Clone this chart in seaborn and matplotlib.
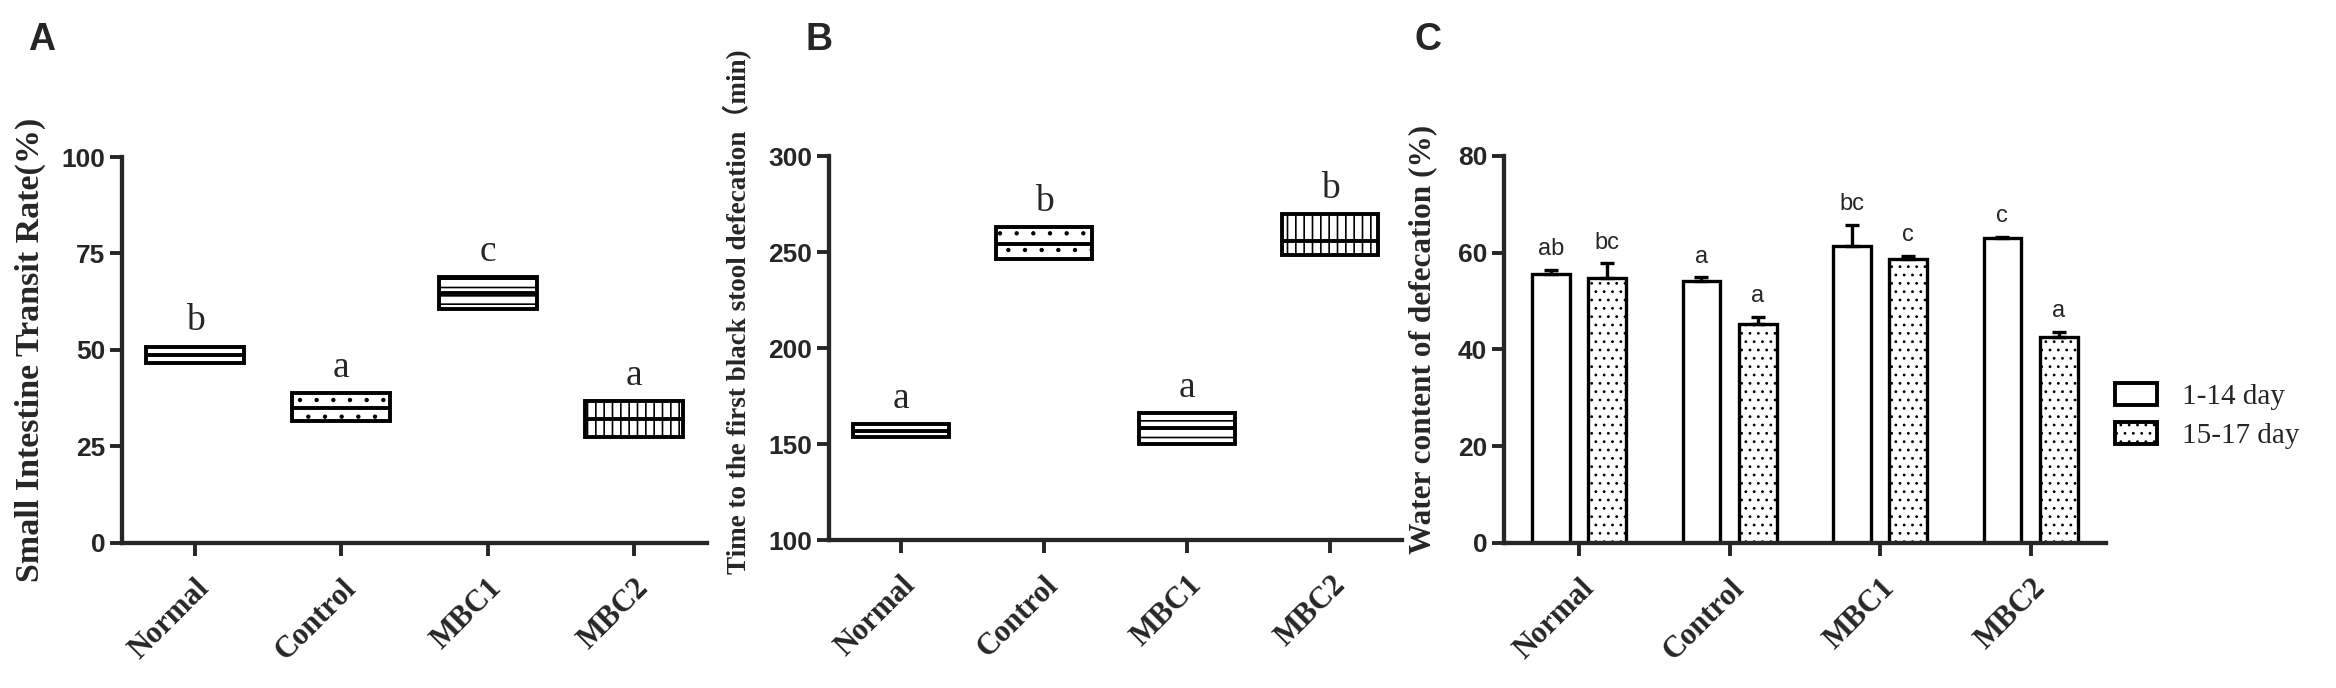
import matplotlib
matplotlib.use('Agg')
import matplotlib.pyplot as plt
import seaborn as sns
import numpy as np
import pandas as pd
from matplotlib.patches import Patch

# data
groups = ['Normal', 'Control', 'MBC1', 'MBC2']

# A: small intestine transit rate, floating bars (min..max) with mean line
transit_min = [46.6, 31.6, 60.6, 27.4]
transit_max = [50.9, 38.8, 68.9, 36.8]
transit_mean = [48.6, 35.0, 64.8, 32.2]
transit_letters = ['b', 'a', 'c', 'a']

# B: time to first black stool (min)
stool_min = [153.6, 246.2, 149.9, 248.7]
stool_max = [160.2, 263.0, 166.1, 269.7]
stool_mean = [156.8, 254.4, 158.6, 256.0]
stool_letters = ['a', 'b', 'a', 'b']

# C: water content of defecation (%)
periods = ['1-14 day', '15-17 day']
water_early = [55.5, 54.1, 61.4, 63.1]
water_late = [54.8, 45.3, 58.7, 42.6]
err_early = [0.9, 0.8, 4.3, 0.2]
err_late = [3.0, 1.4, 0.7, 1.1]
letters_early = ['ab', 'a', 'bc', 'c']
letters_late = ['bc', 'a', 'c', 'a']

group_hatches = ['', '.', '--', '||']

SERIF = 'Liberation Serif'
SANS = 'Liberation Sans'
LW = 2.8

sns.set_style('ticks')
plt.rcParams['hatch.linewidth'] = 1.2


def thin_dots(patch):
    # dotted fills look finer in the original
    if hasattr(patch, 'set_hatch_linewidth'):
        patch.set_hatch_linewidth(0.7)


def style_axis(ax, ylim, yticks):
    # prism-like thick axes, only left and bottom
    sns.despine(ax=ax)
    for side in ['left', 'bottom']:
        ax.spines[side].set_linewidth(LW + 0.3)
    ax.set_ylim(*ylim)
    ax.set_yticks(yticks)
    ax.set_xlim(-0.5, 3.5)
    ax.tick_params(axis='both', width=LW, length=9, direction='out')
    ax.tick_params(axis='y', pad=3)
    for lab in ax.get_yticklabels():
        lab.set_fontfamily(SANS)
        lab.set_fontweight('bold')
        lab.set_fontsize(19)
    ax.set_xticks(range(len(groups)))
    ax.set_xticklabels(groups, rotation=45, ha='right', rotation_mode='anchor',
                       fontfamily=SERIF, fontweight='bold', fontsize=22)
    ax.tick_params(axis='x', pad=13)
    ax.set_xlabel('')


def floating_panel(ax, mins, maxs, means, letters, ylim, yticks, ylabel, label_size, label_pos):
    df = pd.DataFrame({'group': groups, 'span': np.array(maxs) - np.array(mins)})
    sns.barplot(data=df, x='group', y='span', bottom=mins, width=0.67, color='white',
                edgecolor='black', linewidth=LW, errorbar=None, ax=ax)
    for patch, hatch, mean, top, letter in zip(ax.patches, group_hatches, means, maxs, letters):
        patch.set_hatch(hatch)
        if hatch == '.':
            thin_dots(patch)
        x0 = patch.get_x()
        x1 = x0 + patch.get_width()
        ax.plot([x0, x1], [mean, mean], color='black', lw=LW, solid_capstyle='butt')
        ax.annotate(letter, xy=((x0 + x1) / 2, top), xytext=(0, 6),
                    textcoords='offset points', ha='center', va='bottom',
                    family=SERIF, fontsize=27)
    style_axis(ax, ylim, yticks)
    ax.set_ylabel(ylabel, family=[SERIF, 'Noto Sans CJK SC'], fontweight='bold',
                  fontsize=label_size)
    ax.yaxis.set_label_coords(*label_pos)


fig = plt.figure(figsize=(23.36, 6.88), dpi=100)
ax_a = fig.add_axes([0.0522, 0.2108, 0.2504, 0.561])
ax_b = fig.add_axes([0.3549, 0.2151, 0.2453, 0.558])
ax_c = fig.add_axes([0.6438, 0.2108, 0.2577, 0.5625])

floating_panel(ax_a, transit_min, transit_max, transit_mean, transit_letters,
               (0, 100), [0, 25, 50, 75, 100], 'Small Intestine Transit Rate(%)', 24.5,
               (-0.13, 0.5))
floating_panel(ax_b, stool_min, stool_max, stool_mean, stool_letters,
               (100, 300), [100, 150, 200, 250, 300],
               'Time to the first black stool defecation\uff08min)', 19.5, (-0.135, 0.596))

# C: grouped bars with SEM error bars, finer dots for the hatch
plt.rcParams['hatch.linewidth'] = 0.8
water_df = pd.DataFrame({
    'group': groups * 2,
    'period': [periods[0]] * 4 + [periods[1]] * 4,
    'water': water_early + water_late,
})
sns.barplot(data=water_df, x='group', y='water', hue='period', palette=['white', 'white'],
            width=0.75, gap=0.33, edgecolor='black', linewidth=LW - 0.4, errorbar=None,
            legend=False, ax=ax_c)
bars = ax_c.patches
for patch in bars[4:]:
    patch.set_hatch('..')
centers = [p.get_x() + p.get_width() / 2 for p in bars]
tops = water_early + water_late
errs = err_early + err_late
ax_c.errorbar(centers, tops, yerr=[np.zeros(len(errs)), errs], fmt='none', ecolor='black',
              elinewidth=LW - 0.4, capsize=5, capthick=LW - 0.4)
for cx, top, e, letter in zip(centers, tops, errs, letters_early + letters_late):
    ax_c.annotate(letter, xy=(cx, top + e), xytext=(0, 7), textcoords='offset points',
                  ha='center', va='bottom', family=SANS, fontsize=17)
style_axis(ax_c, (0, 80), [0, 20, 40, 60, 80])
ax_c.set_ylabel('Water content of defecation (%)', family=SERIF, fontweight='bold', fontsize=22.5)
ax_c.yaxis.set_label_coords(-0.11, 0.527)

legend_handles = [
    Patch(facecolor='white', edgecolor='black', linewidth=LW, label=periods[0]),
    Patch(facecolor='white', edgecolor='black', linewidth=LW, hatch='..', label=periods[1]),
]
fig.legend(handles=legend_handles, loc='center left', bbox_to_anchor=(0.894, 0.395),
           frameon=False, prop={'family': SERIF, 'size': 21}, handlelength=1.45,
           handleheight=0.8, handletextpad=0.85, labelspacing=0.4)

# panel letters
for letter, xpos in zip(['A', 'B', 'C'], [28, 806, 1415]):
    fig.text(xpos / 2336, 1 - 22 / 688, letter, fontsize=27, fontweight='bold',
             family=SANS, va='top', ha='left')

fig.savefig('out.png', dpi=100)
